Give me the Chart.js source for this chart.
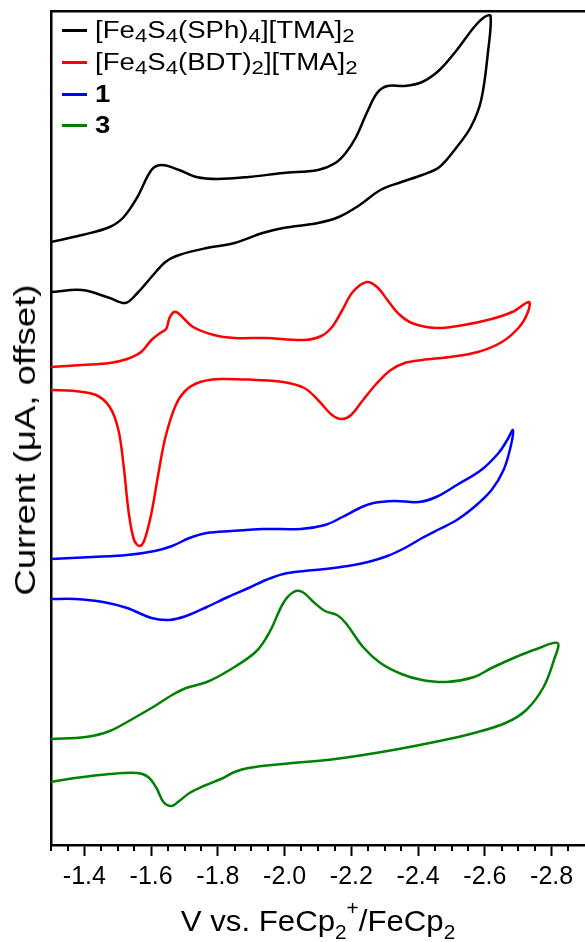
<!DOCTYPE html>
<html lang="en">

<head>
    <meta charset="UTF-8">
    <title>CV - Fe4S4 clusters</title>
    <script src="https://cdn.jsdelivr.net/npm/chart.js"></script>
    <style>
        body { margin: 0; background: #fff; }
        #wrap { position: relative; width: 585px; height: 942px; overflow: hidden; font-family: "Liberation Sans", Arial, sans-serif; color: #000; }
        #legend { position: absolute; left: 62px; top: 15px; }
        #legend .row { display: flex; align-items: center; height: 31.7px; font-size: 23px; white-space: nowrap; }
        #legend .swatch { width: 25px; height: 3px; margin-right: 8px; }
        #legend .txt { display: inline-block; transform: scaleX(1.2); transform-origin: left center; }
        #legend sub { font-size: 18.5px; vertical-align: baseline; position: relative; top: 4px; }
        #xTitle { position: absolute; left: 51px; width: 534px; top: 906px; text-align: center; font-size: 30px; line-height: 30px; white-space: nowrap; transform: scaleX(1.04); }
        #xTitle sub, #xTitle sup { font-size: 20px; vertical-align: baseline; position: relative; }
        #xTitle sub { top: 8px; }
        #xTitle sup { top: -16px; }
        #yTitle { position: absolute; left: 25px; top: 440px; font-size: 30px; line-height: 30px; white-space: nowrap; transform: translate(-50%, -50%) rotate(-90deg) scaleX(1.22); }
    </style>
</head>

<body>
    <div id="wrap">
        <canvas id="myChart"></canvas>
        <div id="legend"></div>
        <div id="xTitle">V vs. FeCp<sub>2</sub><sup>+</sup>/FeCp<sub>2</sub></div>
        <div id="yTitle">Current (&mu;A, offset)</div>
    </div>

    <script>
        // potential (V vs Fc+/Fc) and offset current (arb.)
        var blackV = [-1.300, -1.393, -1.476, -1.518, -1.559, -1.601, -1.632, -1.684, -1.736, -1.799, -1.892, -1.996, -2.100, -2.152, -2.183, -2.214, -2.246, -2.277, -2.308, -2.360, -2.412, -2.464, -2.516, -2.568, -2.599, -2.617,
            -2.610, -2.589, -2.558, -2.516, -2.464, -2.412, -2.350, -2.287, -2.225, -2.162, -2.100, -1.996, -1.934, -1.850, -1.767, -1.684, -1.643, -1.601, -1.559, -1.523, -1.476, -1.393, -1.300];
        var blackI = [603, 610, 618, 628, 648, 675, 680, 675, 668, 666, 668, 672, 675, 682, 692, 708, 732, 752, 759, 759, 763, 775, 795, 818, 828, 829,
            795, 745, 718, 698, 678, 670, 663, 655, 640, 628, 622, 617, 612, 602, 597, 590, 583, 568, 552, 542, 547, 555, 553];

        var redV = [-1.300, -1.393, -1.476, -1.528, -1.570, -1.601, -1.627, -1.645, -1.655, -1.669, -1.684, -1.726, -1.788, -1.850, -1.944, -2.059, -2.110, -2.142, -2.173, -2.204, -2.246, -2.277, -2.308, -2.339, -2.381, -2.454, -2.537, -2.620, -2.682, -2.732,
            -2.729, -2.703, -2.651, -2.579, -2.495, -2.412, -2.360, -2.318, -2.277, -2.235, -2.199, -2.171, -2.142, -2.100, -2.059, -1.996, -1.913, -1.809, -1.747, -1.705, -1.674, -1.643, -1.622, -1.601, -1.580, -1.565, -1.549, -1.533, -1.518, -1.502, -1.476, -1.435, -1.372, -1.300];
        var redI = [478, 480, 482, 486, 493, 505, 512, 516, 527, 533, 531, 518, 510, 507, 507, 505, 509, 518, 535, 553, 563, 558, 545, 532, 522, 517, 520, 526, 533, 543,
            533, 518, 503, 493, 488, 485, 482, 475, 462, 445, 430, 426, 430, 445, 457, 463, 465, 466, 463, 455, 440, 408, 372, 332, 305, 299, 305, 332, 378, 415, 438, 450, 454, 455];

        var blueV = [-1.300, -1.424, -1.528, -1.611, -1.663, -1.715, -1.767, -1.840, -1.934, -2.048, -2.121, -2.173, -2.225, -2.266, -2.329, -2.402, -2.454, -2.516, -2.589, -2.641, -2.667, -2.684,
            -2.677, -2.656, -2.620, -2.568, -2.516, -2.464, -2.412, -2.360, -2.308, -2.250, -2.190, -2.120, -2.059, -1.996, -1.944, -1.892, -1.830, -1.767, -1.705, -1.653, -1.601, -1.528, -1.456, -1.372, -1.300];
        var blueI = [286, 288, 290, 294, 299, 307, 312, 314, 316, 316, 320, 328, 337, 342, 344, 343, 348, 360, 375, 392, 405, 415,
            398, 375, 355, 338, 325, 316, 307, 297, 289, 283, 279, 276, 274, 271, 265, 257, 248, 238, 229, 225, 227, 237, 243, 246, 246];

        var greenV = [-1.300, -1.404, -1.476, -1.549, -1.611, -1.663, -1.705, -1.767, -1.830, -1.913, -1.955, -1.996, -2.027, -2.053, -2.090, -2.121, -2.157, -2.183, -2.235, -2.287, -2.350, -2.412, -2.485, -2.568, -2.620, -2.693, -2.755, -2.818,
            -2.807, -2.776, -2.724, -2.662, -2.568, -2.464, -2.308, -2.152, -1.996, -1.892, -1.850, -1.809, -1.757, -1.715, -1.684, -1.661, -1.637, -1.616, -1.591, -1.559, -1.476, -1.372, -1.300];
        var greenI = [106, 108, 114, 127, 139, 150, 157, 163, 174, 193, 213, 242, 253, 253, 242, 234, 230, 222, 198, 182, 171, 165, 163, 168, 177, 188, 196, 202,
            185, 158, 135, 122, 112, 104, 94, 86, 81, 77, 73, 66, 59, 52, 44, 39, 43, 57, 68, 72, 71, 67, 63];

        var seriesColors = ['#000000', '#ff0000', '#0000ff', '#008000'];
        var seriesNames = ['[Fe4S4(SPh)4][TMA]2', '[Fe4S4(BDT)2][TMA]2', '1', '3'];
        var legendHtml = ['[Fe<sub>4</sub>S<sub>4</sub>(SPh)<sub>4</sub>][TMA]<sub>2</sub>',
            '[Fe<sub>4</sub>S<sub>4</sub>(BDT)<sub>2</sub>][TMA]<sub>2</sub>',
            '<b>1</b>', '<b>3</b>'];

        var majorTicks = [-1.4, -1.6, -1.8, -2.0, -2.2, -2.4, -2.6, -2.8];
        var minorTicks = [-1.30, -1.35, -1.45, -1.50, -1.55, -1.65, -1.70, -1.75, -1.85, -1.90, -1.95, -2.05, -2.10, -2.15,
            -2.25, -2.30, -2.35, -2.45, -2.50, -2.55, -2.65, -2.70, -2.75, -2.85];

        function toPoints(vs, is) {
            return vs.map(function (v, k) { return { x: v, y: is[k] }; });
        }

        var allV = [blackV, redV, blueV, greenV];
        var allI = [blackI, redI, blueI, greenI];

        var minorTickPlugin = {
            id: 'minorTicks',
            afterDraw: function (chart) {
                var xs = chart.scales.x;
                var ctx = chart.ctx;
                ctx.save();
                ctx.strokeStyle = '#000';
                ctx.lineWidth = 2;
                minorTicks.forEach(function (v) {
                    var px = Math.round(xs.getPixelForValue(v));
                    ctx.beginPath();
                    ctx.moveTo(px, xs.top);
                    ctx.lineTo(px, xs.top + 6);
                    ctx.stroke();
                });
                ctx.restore();
            }
        };

        var chart01 = new Chart(document.getElementById('myChart'), {
            type: 'line',
            data: {
                datasets: seriesNames.map(function (name, k) {
                    return {
                        label: name,
                        data: toPoints(allV[k], allI[k]),
                        borderColor: seriesColors[k],
                        backgroundColor: seriesColors[k],
                        borderWidth: 2.5,
                        pointRadius: 0,
                        tension: 0.35,
                        fill: false
                    };
                })
            },
            options: {
                responsive: true,
                maintainAspectRatio: false,
                animation: false,
                layout: { padding: { top: 11, right: 0, bottom: 0, left: 0 } },
                plugins: {
                    legend: { display: false },
                    tooltip: { enabled: false }
                },
                scales: {
                    x: {
                        type: 'linear',
                        position: 'bottom',
                        reverse: true,
                        min: -2.9,
                        max: -1.3,
                        afterBuildTicks: function (scale) {
                            scale.ticks = majorTicks.map(function (v) { return { value: v }; });
                        },
                        afterFit: function (scale) { scale.height = 97; },
                        ticks: {
                            autoSkip: false,
                            maxRotation: 0,
                            padding: 6,
                            color: '#000',
                            font: { family: '"Liberation Sans", Arial, sans-serif', size: 25 },
                            callback: function (value) { return value.toFixed(1); }
                        },
                        grid: { drawOnChartArea: false, tickLength: 11, tickWidth: 2, tickColor: '#000' },
                        border: { display: true, width: 2.5, color: '#000' }
                    },
                    x2: {
                        type: 'linear',
                        position: 'top',
                        reverse: true,
                        min: -2.9,
                        max: -1.3,
                        afterFit: function (scale) { scale.height = 0; },
                        ticks: { display: false },
                        grid: { display: false },
                        border: { display: true, width: 2.5, color: '#000' }
                    },
                    y: {
                        type: 'linear',
                        position: 'left',
                        min: 0,
                        max: 834,
                        afterFit: function (scale) { scale.width = 51; },
                        ticks: { display: false },
                        grid: { display: false },
                        border: { display: true, width: 2.5, color: '#000' }
                    }
                }
            },
            plugins: [minorTickPlugin]
        });

        // html legend so the formulas can carry subscripts
        var legendBox = document.getElementById('legend');
        chart01.data.datasets.forEach(function (ds, k) {
            var row = document.createElement('div');
            row.className = 'row';
            row.innerHTML = '<span class="swatch" style="background:' + ds.borderColor + '"></span><span class="txt">' + legendHtml[k] + '</span>';
            legendBox.appendChild(row);
        });
    </script>
</body>

</html>
